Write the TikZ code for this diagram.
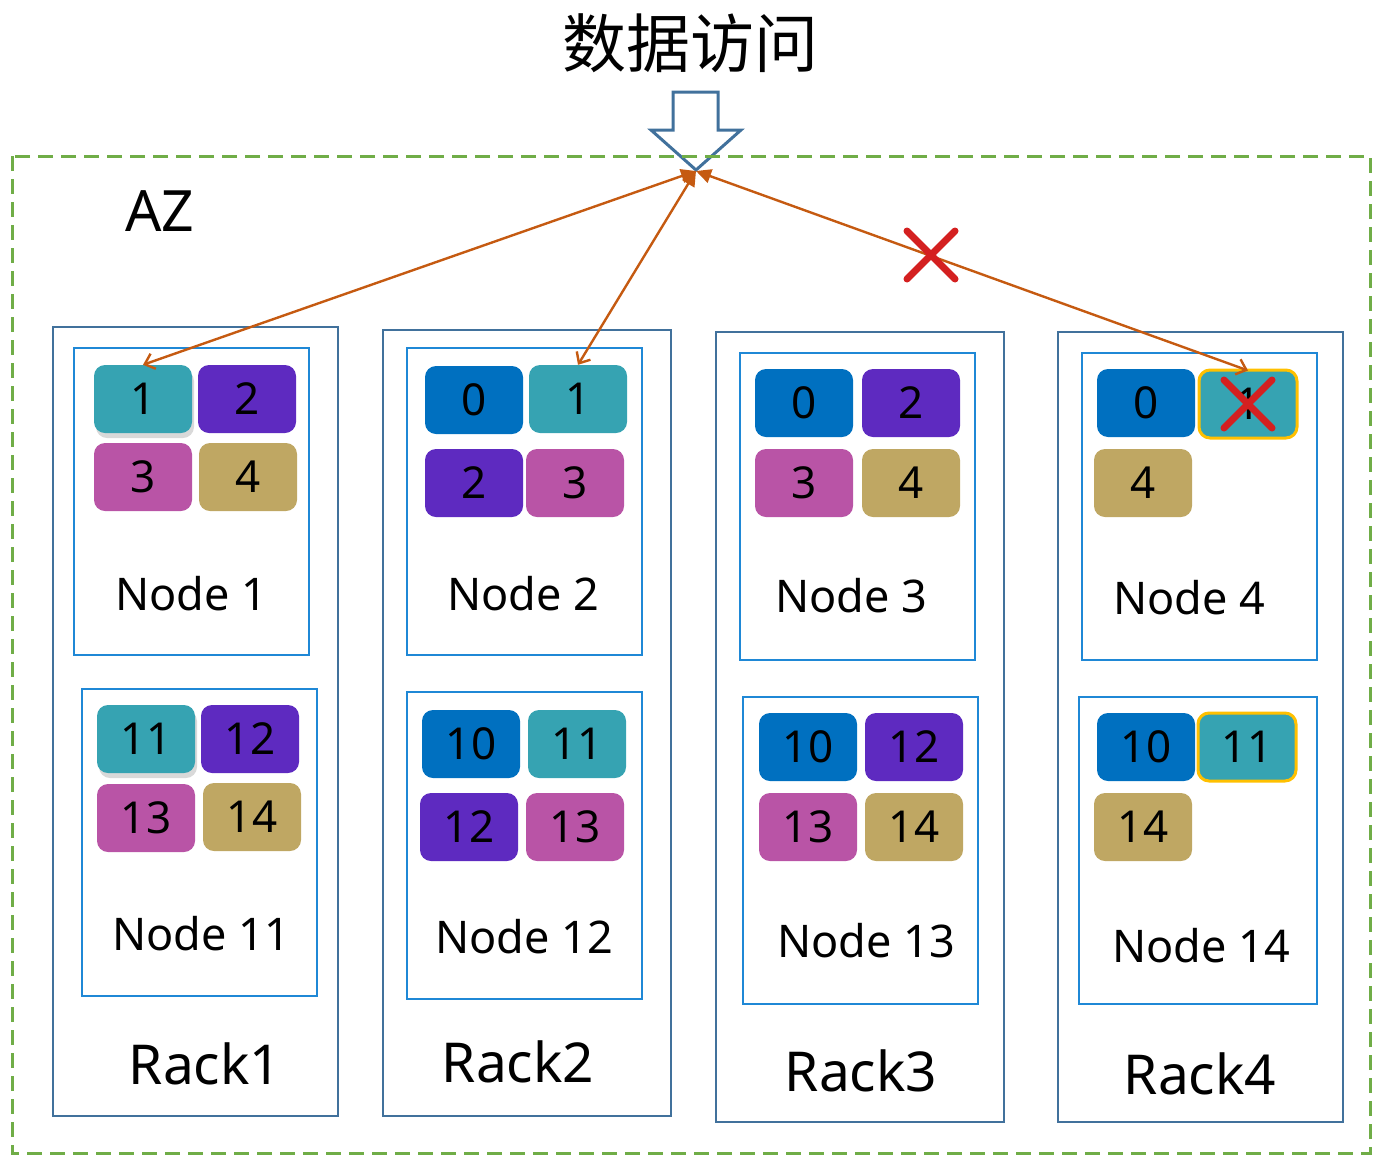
\documentclass[tikz,border=0pt]{standalone}
\usepackage{fontspec}
\setmainfont{Noto Sans}
\newfontfamily\cjk{Noto Sans CJK SC}
\usetikzlibrary{arrows.meta,shadows}
\definecolor{azgreen}{HTML}{70AD47}
\definecolor{rackblue}{HTML}{41719C}
\definecolor{nodeblue}{HTML}{1F88D6}
\definecolor{cteal}{HTML}{36A3B2}
\definecolor{cpurple}{HTML}{5E2AC0}
\definecolor{cpink}{HTML}{B954A6}
\definecolor{ctan}{HTML}{BFA763}
\definecolor{cblue}{HTML}{0070C0}
\definecolor{cgold}{HTML}{FFC000}
\definecolor{linkorange}{HTML}{C55A11}
\definecolor{failred}{HTML}{D42020}
\tikzset{
  rackbox/.style={draw=rackblue,line width=2.6pt,inner sep=0pt},
  nodebox/.style={draw=nodeblue,line width=2.6pt,inner sep=0pt},
  chunk/.style={rounded corners=11pt,minimum width=98pt,minimum height=68pt,inner sep=0pt,
    font=\fontsize{44}{48}\selectfont},
  hot/.style={drop shadow={shadow xshift=2pt,shadow yshift=-5pt,opacity=0.25,fill=black!60}},
  lost/.style={draw=cgold,line width=3pt},
  nodelabel/.style={font=\fontsize{45}{50}\selectfont},
  racklabel/.style={font=\fontsize{55}{60}\selectfont},
  link/.style={draw=linkorange,line width=2.4pt,
    {Triangle[length=15pt,width=14pt]}-{Straight Barb[length=9pt,width=16pt,line width=2.4pt]}},
  failmark/.style={draw=failred,line width=7pt,line cap=round}
}
\begin{document}
\begin{tikzpicture}[x=1pt,y=-1pt]
\useasboundingbox (0,0) rectangle (1375,1154);

% title and incoming request arrow
\node[font=\cjk\fontsize{64}{70}\selectfont] (title) at (690,43) {数据访问};
\draw[rackblue,line width=3pt,fill=white,line join=miter]
  (673,92) -- (718,92) -- (718,130) -- (741,130) -- (696,170) -- (651,130) -- (673,130) -- cycle;
\coordinate (hub) at (696,171);

% availability zone
\draw[azgreen,line width=3pt,dash pattern=on 15pt off 8pt] (12,156) rectangle (1370,1153);
\node[font=\fontsize{57}{60}\selectfont] (az) at (160,211) {AZ};

% racks
\node[rackbox,minimum width=285pt,minimum height=789pt] (rack1) at (195.5,721.5) {};
\node[rackbox,minimum width=288pt,minimum height=786pt] (rack2) at (527,723) {};
\node[rackbox,minimum width=288pt,minimum height=790pt] (rack3) at (860,727) {};
\node[rackbox,minimum width=285pt,minimum height=790pt] (rack4) at (1200.5,727) {};
\node[racklabel] (rack1l) at (205,1064) {Rack1};
\node[racklabel] (rack2l) at (518,1062) {Rack2};
\node[racklabel] (rack3l) at (861,1071) {Rack3};
\node[racklabel] (rack4l) at (1200,1074) {Rack4};

% storage nodes
\node[nodebox,minimum width=235pt,minimum height=307pt] (node1)  at (191.5,501.5) {};
\node[nodebox,minimum width=235pt,minimum height=307pt] (node11) at (199.5,842.5) {};
\node[nodebox,minimum width=235pt,minimum height=307pt] (node2)  at (524.5,501.5) {};
\node[nodebox,minimum width=235pt,minimum height=307pt] (node12) at (524.5,845.5) {};
\node[nodebox,minimum width=235pt,minimum height=307pt] (node3)  at (857.5,506.5) {};
\node[nodebox,minimum width=235pt,minimum height=307pt] (node13) at (860.5,850.5) {};
\node[nodebox,minimum width=235pt,minimum height=307pt] (node4)  at (1199.5,506.5) {};
\node[nodebox,minimum width=238pt,minimum height=307pt] (node14) at (1198,850.5) {};
\node[nodelabel] (node1l)  at (191,594) {Node 1};
\node[nodelabel] (node11l) at (201,934) {Node 11};
\node[nodelabel] (node2l)  at (523,594) {Node 2};
\node[nodelabel] (node12l) at (524,937) {Node 12};
\node[nodelabel] (node3l)  at (851,596) {Node 3};
\node[nodelabel] (node13l) at (866,941) {Node 13};
\node[nodelabel] (node4l)  at (1189,598) {Node 4};
\node[nodelabel] (node14l) at (1201,946) {Node 14};

% chunks on Node 1 / Node 11
\node[chunk,fill=cteal,hot] (n1a) at (143,399) {1};
\node[chunk,fill=cpurple]   (n1b) at (247,399) {2};
\node[chunk,fill=cpink]     (n1c) at (143,477) {3};
\node[chunk,fill=ctan]      (n1d) at (248,477) {4};
\node[chunk,fill=cteal,hot] (n11a) at (146,739) {11};
\node[chunk,fill=cpurple]   (n11b) at (250,739) {12};
\node[chunk,fill=cpink]     (n11c) at (146,818) {13};
\node[chunk,fill=ctan]      (n11d) at (252,817) {14};

% chunks on Node 2 / Node 12
\node[chunk,fill=cblue]   (n2a) at (474,400) {0};
\node[chunk,fill=cteal]   (n2b) at (578,399) {1};
\node[chunk,fill=cpurple] (n2c) at (474,483) {2};
\node[chunk,fill=cpink]   (n2d) at (575,483) {3};
\node[chunk,fill=cblue]   (n12a) at (471,744) {10};
\node[chunk,fill=cteal]   (n12b) at (577,744) {11};
\node[chunk,fill=cpurple] (n12c) at (469,827) {12};
\node[chunk,fill=cpink]   (n12d) at (575,827) {13};

% chunks on Node 3 / Node 13
\node[chunk,fill=cblue]   (n3a) at (804,403) {0};
\node[chunk,fill=cpurple] (n3b) at (911,403) {2};
\node[chunk,fill=cpink]   (n3c) at (804,483) {3};
\node[chunk,fill=ctan]    (n3d) at (911,483) {4};
\node[chunk,fill=cblue]   (n13a) at (808,747) {10};
\node[chunk,fill=cpurple] (n13b) at (914,747) {12};
\node[chunk,fill=cpink]   (n13c) at (808,827) {13};
\node[chunk,fill=ctan]    (n13d) at (914,827) {14};

% chunks on Node 4 / Node 14
\node[chunk,fill=cblue]      (n4a) at (1146,403) {0};
\node[chunk,fill=cteal,lost] (n4b) at (1248,404) {1};
\node[chunk,fill=ctan]       (n4c) at (1143,483) {4};
\node[chunk,fill=cblue]      (n14a) at (1146,747) {10};
\node[chunk,fill=cteal,lost] (n14b) at (1247,747) {11};
\node[chunk,fill=ctan]       (n14c) at (1143,827) {14};

% read paths
\draw[link] (hub) -- (n1a.north);
\draw[link] (hub) -- (n2b.north);
\draw[link] (hub) -- ([yshift=-2pt]n4b.north);

% failure marks
\coordinate (cut) at (931,255);
\draw[failmark] ([shift={(-24,-24)}]cut) -- ([shift={(24,24)}]cut);
\draw[failmark] ([shift={(24,-24)}]cut) -- ([shift={(-24,24)}]cut);
\draw[failmark] ([shift={(-24,-24)}]n4b.center) -- ([shift={(24,24)}]n4b.center);
\draw[failmark] ([shift={(24,-24)}]n4b.center) -- ([shift={(-24,24)}]n4b.center);
\end{tikzpicture}
\end{document}
